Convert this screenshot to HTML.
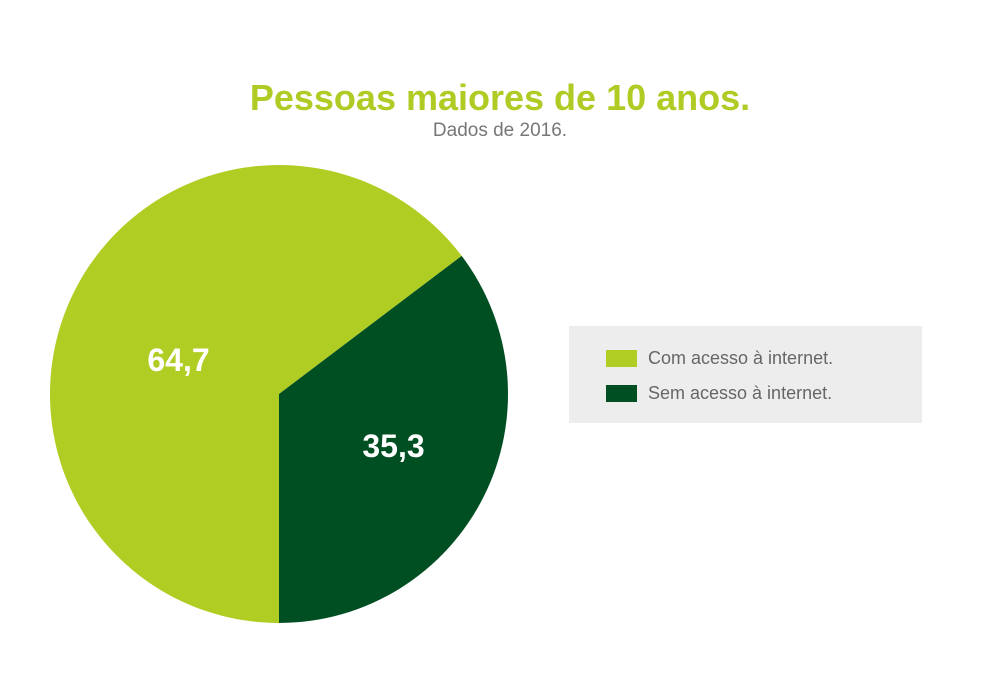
<!DOCTYPE html>
<html><head><meta charset="utf-8"><style>
body{margin:0;width:1000px;height:700px;background:#fff;font-family:"Liberation Sans",sans-serif;position:relative;overflow:hidden}
#title{position:absolute;left:0;width:1000px;top:77px;text-align:center;font-size:36px;font-weight:bold;color:#afcb24}
#sub{position:absolute;left:0;width:1000px;top:120px;text-align:center;font-size:19px;color:#777}
#legend{position:absolute;left:569px;top:326px;width:353px;height:97px;background:#ededed}
.li{position:absolute;left:37px;font-size:18px;color:#666;display:flex;align-items:center}
.sw{width:31px;height:17px;margin-right:11px}
</style></head><body>
<div id="title">Pessoas maiores de 10 anos.</div>
<div id="sub">Dados de 2016.</div>
<svg id="pie" width="1000" height="700" style="position:absolute;left:0;top:0"></svg>
<div id="legend">
<div class="li" style="top:22px"><div class="sw" style="background:#b0cd24"></div>Com acesso à internet.</div>
<div class="li" style="top:57px"><div class="sw" style="background:#004f23"></div>Sem acesso à internet.</div>
</div>
<script>
const categories=["Com acesso à internet.","Sem acesso à internet."];
const values=[64.7,35.3];
const labels=["64,7","35,3"];
const colors=["#b0cd24","#004f23"];
const svg=document.getElementById('pie');
const ns="http://www.w3.org/2000/svg";
const cx=279,cy=394,r=229;
const total=values.reduce((a,b)=>a+b,0);
let start=180-values[1]/total*360-values[0]/total*360;
function pt(a,rr){const t=a*Math.PI/180;return [cx+rr*Math.sin(t),cy-rr*Math.cos(t)];}
const labelShift=[[2,28],[12,12]];
values.forEach((v,i)=>{
 const sweep=v/total*360,end=start+sweep;
 const [x1,y1]=pt(start,r),[x2,y2]=pt(end,r);
 const p=document.createElementNS(ns,'path');
 p.setAttribute('d',`M${cx},${cy}L${x1},${y1}A${r},${r} 0 ${sweep>180?1:0} 1 ${x2},${y2}Z`);
 p.setAttribute('fill',colors[i]);
 
 
 svg.appendChild(p);
 const mid=start+sweep/2;
 const [lx,ly]=pt(mid,r*0.5);
 const t=document.createElementNS(ns,'text');
 t.setAttribute('x',lx+labelShift[i][0]);t.setAttribute('y',ly+labelShift[i][1]);
 t.setAttribute('text-anchor','middle');t.setAttribute('fill','#fff');
 t.setAttribute('font-size','32');t.setAttribute('font-weight','bold');
 t.setAttribute('font-family','Liberation Sans, sans-serif');
 t.textContent=labels[i];
 
 
 svg.appendChild(t);
 start=end;
});
</script>
</body></html>
